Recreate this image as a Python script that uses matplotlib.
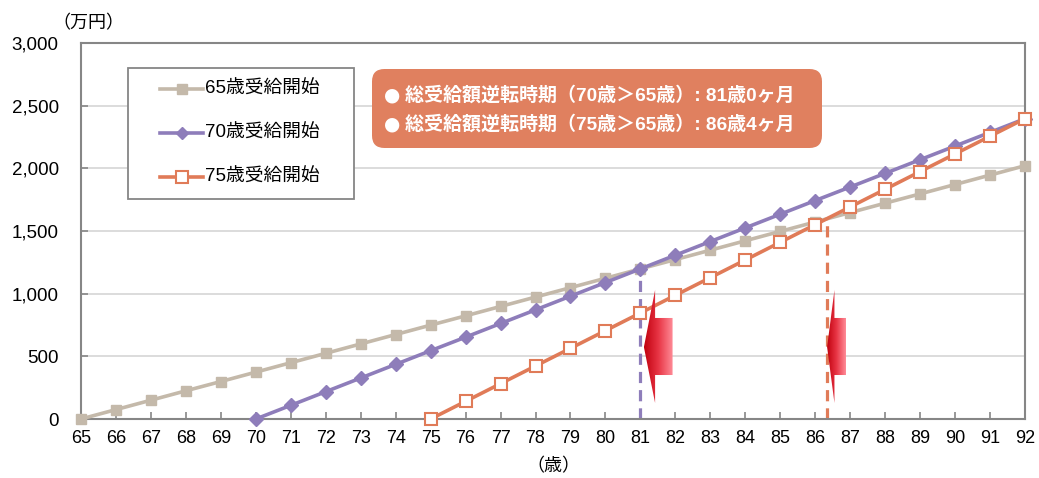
import matplotlib
matplotlib.use("Agg")
import matplotlib.pyplot as plt
import numpy as np
from matplotlib.patches import FancyBboxPatch, Rectangle, Polygon
from matplotlib.lines import Line2D
from matplotlib.colors import LinearSegmentedColormap

plt.rcParams['font.family'] = ['Liberation Sans', 'Noto Sans CJK JP', 'DejaVu Sans']

ages_65 = list(range(65, 93))
vals_65 = [0, 75, 150, 225, 299, 374, 449, 524, 599, 674, 749, 823, 898, 973, 1048,
           1123, 1198, 1272, 1347, 1422, 1497, 1572, 1647, 1722, 1796, 1871, 1946, 2021]
ages_70 = list(range(70, 93))
vals_70 = [0, 109, 218, 327, 436, 545, 653, 762, 871, 980, 1089, 1198, 1307, 1416,
           1525, 1634, 1743, 1851, 1960, 2069, 2178, 2287, 2396]
ages_75 = list(range(75, 93))
vals_75 = [0, 141, 282, 423, 564, 705, 846, 987, 1128, 1269, 1410, 1551, 1692, 1833,
           1974, 2115, 2256, 2397]
labels = ['65歳受給開始', '70歳受給開始', '75歳受給開始']
cross_ages = [81.0, 86 + 4 / 12]
cross_vals = [1198, 1597]
notes = ['総受給額逆転時期（70歳＞65歳）: 81歳0ヶ月', '総受給額逆転時期（75歳＞65歳）: 86歳4ヶ月']
yticks = [0, 500, 1000, 1500, 2000, 2500, 3000]

c65 = '#C4B9AA'
c70 = '#8E7DBA'
c75 = '#E07B58'

W, H = 1039, 478
fig = plt.figure(figsize=(W / 100, H / 100), dpi=100)
ax = fig.add_axes([81 / W, 1 - 419 / H, (1025 - 81) / W, (419 - 43) / H])

ax.set_xlim(65, 92)
ax.set_ylim(0, 3000)
ax.set_yticks(yticks)
ax.set_yticklabels([f'{v:,}' for v in yticks])
ax.set_xticks(range(65, 93))
ax.tick_params(axis='y', direction='in', length=5, width=1.2, color='#868686', labelsize=13.5, pad=16)
ax.tick_params(axis='x', direction='in', length=5, width=1.2, color='#868686', labelsize=13, pad=8)
for s in ax.spines.values():
    s.set_color('#868686')
    s.set_linewidth(1.5)
for v in yticks[1:-1]:
    ax.axhline(v, color='#D9D9D9', lw=1.3, zorder=0)

# dashed crossover lines
ax.plot([cross_ages[0]] * 2, [0, cross_vals[0]], color=c70, lw=2.3, ls=(0, (3.5, 2.2)), zorder=2)
ax.plot([cross_ages[1]] * 2, [0, cross_vals[1]], color=c75, lw=2.3, ls=(0, (3.5, 2.2)), zorder=2)

ax.plot(ages_65, vals_65, color=c65, lw=2.6, marker='s', ms=7, mfc=c65, mec=c65, zorder=3, clip_on=False)
ax.plot(ages_70, vals_70, color=c70, lw=2.6, marker='D', ms=7.3, mfc=c70, mec=c70, zorder=4, clip_on=False)
ax.plot(ages_75, vals_75, color=c75, lw=2.6, marker='s', ms=8, mfc='white', mec=c75, mew=1.5, zorder=5, clip_on=False)

# gradient arrows pointing left
cmap = LinearSegmentedColormap.from_list('arr', ['#C0000E', '#E83545', '#FF8C98'])
grad = np.linspace(0, 1, 256).reshape(1, -1)
arrow_geo = [(81.10, 81.42, 81.92), (86.34, 86.55, 86.88)]
for tip, base, end in arrow_geo:
    pts = [(tip, 574), (base, 1030), (base, 806), (end, 806), (end, 351), (base, 351), (base, 128)]
    poly = Polygon(pts, closed=True, facecolor='none', edgecolor='none', transform=ax.transData)
    ax.add_patch(poly)
    im = ax.imshow(grad, cmap=cmap, aspect='auto', extent=[tip, end, 128, 1030], zorder=6, interpolation='bilinear')
    im.set_clip_path(poly)
ax.set_xlim(65, 92)
ax.set_ylim(0, 3000)

def fx(x):
    return x / W

def fy(y):
    return 1 - y / H

# legend box
fig.add_artist(Rectangle((fx(128), fy(199)), fx(354) - fx(128), fy(68) - fy(199),
                         transform=fig.transFigure, facecolor='white', edgecolor='#868686', lw=1.3, zorder=10))
rows = [89, 133, 177]
styles = [dict(color=c65, marker='s', ms=7, mfc=c65, mec=c65),
          dict(color=c70, marker='D', ms=6.5, mfc=c70, mec=c70),
          dict(color=c75, marker='s', ms=8, mfc='white', mec=c75, mew=1.5)]
for r, st, lab in zip(rows, styles, labels):
    fig.add_artist(Line2D([fx(160), fx(203)], [fy(r), fy(r)], transform=fig.transFigure, lw=2.6,
                          color=st['color'], zorder=11))
    fig.add_artist(Line2D([fx(181.5)], [fy(r)], transform=fig.transFigure, lw=0, marker=st['marker'],
                          ms=st['ms'], mfc=st['mfc'], mec=st['mec'], mew=st.get('mew', 1), zorder=12))
    fig.text(fx(205), fy(r), lab, fontsize=13.5, va='center', ha='left', zorder=12)

# annotation box
fig.add_artist(FancyBboxPatch((fx(372), fy(148)), fx(822) - fx(372), fy(69) - fy(148),
                              boxstyle='round,pad=0,rounding_size=0.012', transform=fig.transFigure,
                              facecolor='#E0805F', edgecolor='none', zorder=10, mutation_aspect=W / H))
for yy, note in zip([95, 124], notes):
    fig.text(fx(384), fy(yy), '●', fontsize=13.5, color='white', va='center', ha='left', zorder=12,
             family=['DejaVu Sans'])
    fig.text(fx(405), fy(yy), note, fontsize=13.7, color='white', fontweight='bold',
             va='center', ha='left', zorder=12)

fig.text(fx(52), fy(24), '（万円）', fontsize=13, va='center', ha='left')
fig.text(fx(553), fy(467), '（歳）', fontsize=13, va='center', ha='center')

fig.savefig('out.png', dpi=100)
